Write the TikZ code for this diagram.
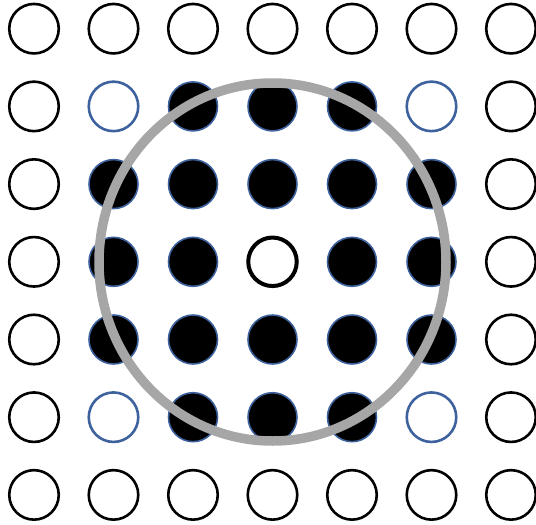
\documentclass[tikz,border=0pt]{standalone}
\usetikzlibrary{shapes.geometric}
\definecolor{ringblue}{RGB}{62,98,158}
\definecolor{haloGray}{RGB}{166,166,166}
\begin{document}
\begin{tikzpicture}[x=1pt,y=-1pt,
  ring/.style={circle,draw=black,line width=2.6pt,minimum size=49.5pt,inner sep=0pt},
  bring/.style={circle,draw=ringblue,line width=2.6pt,minimum size=49.5pt,inner sep=0pt},
  dot/.style={circle,draw=ringblue,fill=black,line width=1.6pt,minimum size=49pt,inner sep=0pt},
  centre/.style={circle,draw=black,line width=4pt,minimum size=48.5pt,inner sep=0pt},
  halo/.style={ellipse,draw=haloGray,line width=9.5pt,minimum width=347pt,minimum height=358pt,inner sep=0pt}]
\useasboundingbox (0,0) rectangle (536,525);
% outer ring of plain circles
\foreach \i in {0,...,6} {
  \node[ring] (c-\i-0) at ({34+79.5*\i},{28.7+77.7*0}) {};
  \node[ring] (c-\i-6) at ({34+79.5*\i},{28.7+77.7*6}) {};
}
\foreach \j in {1,...,5} {
  \node[ring] (c-0-\j) at ({34+79.5*0},{28.7+77.7*\j}) {};
  \node[ring] (c-6-\j) at ({34+79.5*6},{28.7+77.7*\j}) {};
}
% blue outlined corners
\foreach \i/\j in {1/1,5/1,1/5,5/5} {
  \node[bring] (c-\i-\j) at ({34+79.5*\i},{28.7+77.7*\j}) {};
}
% filled dots
\foreach \i/\j in {2/1,3/1,4/1,1/2,2/2,3/2,4/2,5/2,1/3,2/3,4/3,5/3,1/4,2/4,3/4,4/4,5/4,2/5,3/5,4/5} {
  \node[dot] (c-\i-\j) at ({34+79.5*\i},{28.7+77.7*\j}) {};
}
% centre
\node[centre] (c-3-3) at ({34+79.5*3},{28.7+77.7*3}) {};
% big grey circle
\node[halo] (halo) at (272.5,262) {};
\end{tikzpicture}
\end{document}
